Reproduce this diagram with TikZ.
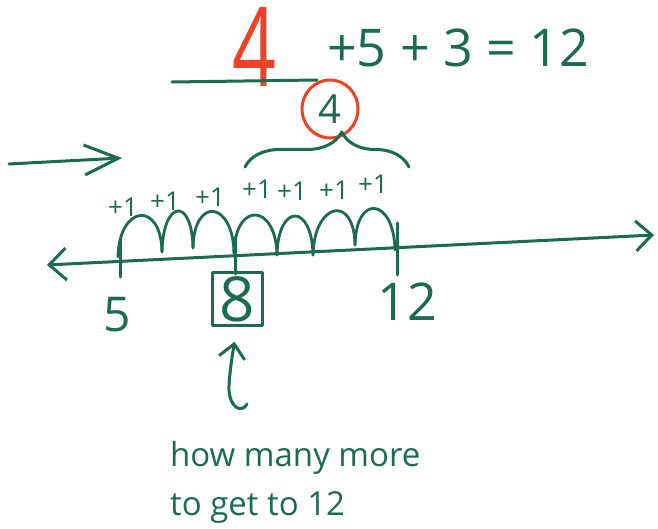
\documentclass[tikz,border=0pt]{standalone}
\usepackage{fontspec}
\setmainfont{Open Sans}
\usetikzlibrary{positioning,arrows.meta,calc,shapes.geometric,decorations.pathreplacing}
\definecolor{marker}{HTML}{1B6B4E}
\definecolor{redpen}{HTML}{EC4228}
\tikzset{
  ink/.style={draw=marker, line width=3pt, line cap=round, line join=round},
  flowarrow/.style={ink, -{Straight Barb[length=34pt, width=30pt]}},
  uparrow/.style={ink, -{Straight Barb[length=14pt, width=26pt]}},
  numline/.style={ink, {Straight Barb[length=17pt, width=32pt]}-{Straight Barb[length=16pt, width=30pt]}},
  hump/.style={ink, line width=2.8pt},
  plusone/.style={text=marker, font=\fontsize{26}{26}\selectfont, inner sep=0pt},
  numlabel/.style={text=marker, inner sep=0pt},
  answerbox/.style={ink, rectangle, minimum width=50pt, minimum height=53pt, inner sep=0pt, text=marker, font=\fontsize{62}{62}\selectfont},
  ringed/.style={draw=redpen, line width=3pt, ellipse, minimum width=56pt, minimum height=58pt, inner sep=0pt, text=marker, font=\fontsize{40}{40}\selectfont},
  note/.style={text=marker, align=left, inner sep=0pt, font=\fontsize{33}{49}\selectfont}
}
\begin{document}
\begin{tikzpicture}[x=1pt, y=-1pt]
  \useasboundingbox (0,0) rectangle (658,529);
  % equation with the missing addend
  \node[text=redpen, font=\fontsize{110}{110}\selectfont, inner sep=0pt] (blank) at (255,47) {\scalebox{0.7}[1]{4}};
  \coordinate (ul) at (172,82);
  \coordinate (ur) at (317,80);
  \draw[ink] (ul) -- (ur);
  \node[text=marker, font=\fontsize{52}{52}\selectfont, inner sep=0pt, anchor=west] (eq) at (327,48) {+5 + 3 = 12};
  \node[ringed] (c4) at (330,109) {4};
  \coordinate (bl) at (245,167);
  \coordinate (br) at (409,167);
  \draw[ink, decorate, decoration={brace, amplitude=35pt, aspect=0.59}] (bl) -- (br);
  % direction arrow
  \coordinate (la) at (9,164);
  \coordinate (lb) at (122,158);
  \draw[flowarrow] (la) -- (lb);
  % number line
  \coordinate (nl) at (47,265);
  \coordinate (nr) at (654,235);
  \draw[numline] (nl) -- (nr);
  \draw[ink] (120,240) -- (120,277);
  \draw[ink] (235,237) -- (235,274);
  \draw[ink] (397,223) -- (397,275);
  % jumps of one
  \foreach \xa/\ya/\xb/\yb in {118/257/162/252, 162/252/193/248, 193/248/234/253, 234/253/277/255, 277/255/313/255, 313/255/355/245, 355/245/395/250}
    \draw[hump] (\xa,\ya) .. controls +(1,-52) and +(-1,-52) .. (\xb,\yb);
  \foreach \i/\px/\py in {1/123/207, 2/165/201, 3/210/197, 4/257/189, 5/292/191, 6/334/190, 7/373/184}
    \node[plusone] (p\i) at (\px,\py) {+1};
  % labels
  \node[numlabel, font=\fontsize{48}{48}\selectfont] (n5) at (117,315) {5};
  \node[answerbox] (b8) at (237,299) {8};
  \node[numlabel, font=\fontsize{52}{52}\selectfont] (n12) at (407,302) {12};
  % question
  \node[note, anchor=north west] (q) at (170,441) {how many more\\to get to 12};
  \coordinate (qa) at (247,404);
  \draw[uparrow, shorten >=15pt] (qa) .. controls (242,414) and (228,408) .. (229,385) .. controls (230,368) and (234,345) .. (b8.south);
\end{tikzpicture}
\end{document}
